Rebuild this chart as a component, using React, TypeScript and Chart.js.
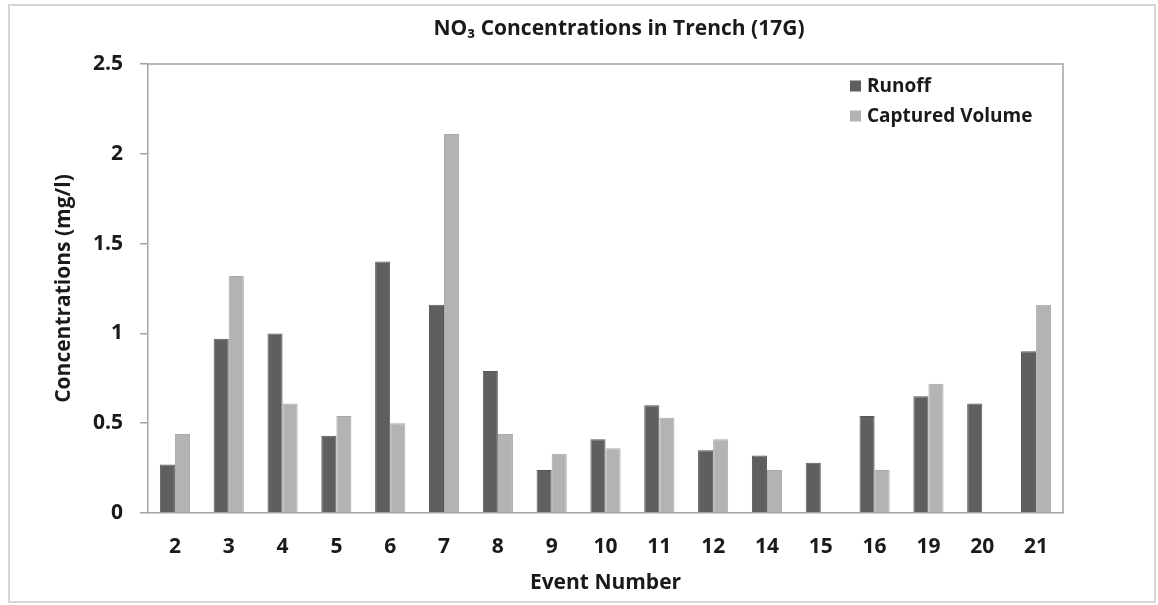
import React, { useEffect, useRef } from 'react';
import { Chart, registerables } from 'chart.js';

Chart.register(...registerables);

const chartTitle = 'NO₃ Concentrations in Trench (17G)';
const xAxisTitle = 'Event Number';
const yAxisTitle = 'Concentrations (mg/l)';

const eventNumbers = ['2', '3', '4', '5', '6', '7', '8', '9', '10', '11', '12', '14', '15', '16', '19', '20', '21'];
const runoff = [0.27, 0.97, 1.0, 0.43, 1.4, 1.16, 0.79, 0.24, 0.41, 0.6, 0.35, 0.32, 0.28, 0.54, 0.65, 0.61, 0.9];
const capturedVolume = [0.44, 1.32, 0.61, 0.54, 0.5, 2.11, 0.44, 0.33, 0.36, 0.53, 0.41, 0.24, null, 0.24, 0.72, null, 1.16];
const yTickValues = [0, 0.5, 1, 1.5, 2, 2.5];
const yTickLabels = ['0', '0.5', '1', '1.5', '2', '2.5'];
const seriesNames = ['Runoff', 'Captured Volume'];
const seriesColors = ['#5f5f5f', '#b3b3b3'];
const seriesBorders = ['#575757', '#a8a8a8'];

const FONT = '"Open Sans", "Noto Sans", sans-serif';
const AXIS_GRAY = '#a3a3a3';
const TEXT = '#1a1a1a';

const framePlugin = {
  id: 'frame',
  beforeDraw(chart: any) {
    const { ctx, width, height } = chart;
    ctx.save();
    ctx.fillStyle = '#ffffff';
    ctx.fillRect(0, 0, width, height);
    ctx.strokeStyle = '#d6d6d6';
    ctx.lineWidth = 2;
    ctx.strokeRect(9, 5, 1146, 597);
    ctx.restore();
  },
  beforeDatasetsDraw(chart: any) {
    const { ctx, chartArea } = chart;
    ctx.save();
    ctx.strokeStyle = AXIS_GRAY;
    ctx.lineWidth = 1.5;
    ctx.beginPath();
    ctx.moveTo(chartArea.left, chartArea.top);
    ctx.lineTo(chartArea.right, chartArea.top);
    ctx.lineTo(chartArea.right, chartArea.bottom);
    ctx.stroke();
    ctx.restore();
  },
  afterDraw(chart: any) {
    const { ctx } = chart;
    ctx.save();
    ctx.font = `bold 21px ${FONT}`;
    ctx.fillStyle = TEXT;
    ctx.textAlign = 'center';
    ctx.textBaseline = 'middle';
    ctx.fillText(chartTitle, 619, 29);
    ctx.restore();
  },
};

const legendPlugin = {
  id: 'insideLegend',
  afterDraw(chart: any) {
    const { ctx } = chart;
    ctx.save();
    ctx.font = `bold 19px ${FONT}`;
    ctx.textBaseline = 'middle';
    ctx.textAlign = 'left';
    chart.data.datasets.forEach((ds: any, i: number) => {
      const y = 86 + i * 30;
      ctx.fillStyle = ds.backgroundColor;
      ctx.fillRect(850, y - 5.5, 11, 11);
      ctx.fillStyle = TEXT;
      ctx.fillText(ds.label, 867, y + 1);
    });
    ctx.restore();
  },
};

export default function App() {
  const canvasRef = useRef<HTMLCanvasElement | null>(null);

  useEffect(() => {
    if (!canvasRef.current) return;
    const chart = new Chart(canvasRef.current, {
      type: 'bar',
      data: {
        labels: eventNumbers,
        datasets: [
          {
            label: seriesNames[0],
            data: runoff,
            backgroundColor: seriesColors[0],
            borderColor: seriesBorders[0],
            borderWidth: 1,
          },
          {
            label: seriesNames[1],
            data: capturedVolume as any,
            backgroundColor: seriesColors[1],
            borderColor: seriesBorders[1],
            borderWidth: 1,
          },
        ],
      },
      options: {
        responsive: false,
        animation: false,
        devicePixelRatio: 1,
        layout: { padding: { left: 0, right: 95, top: 64, bottom: 0 } },
        datasets: {
          bar: { categoryPercentage: 0.56, barPercentage: 1.0 },
        },
        plugins: {
          legend: { display: false },
          tooltip: { enabled: false },
          title: { display: false },
        },
        scales: {
          x: {
            type: 'category',
            offset: true,
            grid: { display: false, drawTicks: false },
            border: { display: true, color: AXIS_GRAY, width: 1.5 },
            ticks: {
              color: TEXT,
              font: { family: FONT, size: 21, weight: 'bold' },
              padding: 21,
              maxRotation: 0,
              autoSkip: false,
            },
            title: {
              display: true,
              text: xAxisTitle,
              color: TEXT,
              font: { family: FONT, size: 21, weight: 'bold', lineHeight: 1.2 },
              padding: { top: 0, bottom: 9 },
            },
            afterFit(scale: any) {
              scale.height = 92;
            },
          },
          y: {
            min: 0,
            max: 2.5,
            grid: {
              display: true,
              drawOnChartArea: false,
              drawTicks: true,
              tickLength: 8,
              color: AXIS_GRAY,
              lineWidth: 1.5,
            },
            border: { display: true, color: AXIS_GRAY, width: 1.5 },
            afterBuildTicks(scale: any) {
              scale.ticks = yTickValues.map((v) => ({ value: v }));
            },
            ticks: {
              color: TEXT,
              font: { family: FONT, size: 21, weight: 'bold' },
              padding: 17,
              callback: (value: any) => {
                const idx = yTickValues.indexOf(Number(value));
                return idx >= 0 ? yTickLabels[idx] : '';
              },
            },
            title: {
              display: true,
              text: yAxisTitle,
              color: TEXT,
              font: { family: FONT, size: 21, weight: 'bold', lineHeight: 1.2 },
              padding: { top: 51, bottom: 0 },
            },
            afterFit(scale: any) {
              scale.width = 148;
            },
          },
        },
      },
      plugins: [framePlugin, legendPlugin],
    });
    return () => chart.destroy();
  }, []);

  return (
    <div style={{ position: 'fixed', left: 0, top: 0, width: 1158, height: 605, background: '#fff' }}>
      <canvas ref={canvasRef} width={1158} height={605} style={{ display: 'block', width: 1158, height: 605 }} />
    </div>
  );
}
